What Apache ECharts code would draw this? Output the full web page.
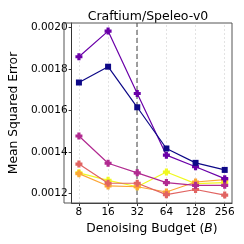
<!DOCTYPE html>
<html><head><meta charset="utf-8">
<script src="https://cdn.jsdelivr.net/npm/echarts@6/dist/echarts.min.js"></script>
<style>html,body{margin:0;padding:0;background:#fff}#c{width:244px;height:244px}</style>
</head><body><div id="c"></div>
<script>
const budgets = ['8','16','32','64','128','256'];
const yTicks = [0.0012, 0.0014, 0.0016, 0.0018, 0.0020];
const s1 = [0.001734, 0.001810, 0.001615, 0.001417, 0.001348, 0.001314];
const s2 = [0.001858, 0.001981, 0.001681, 0.001385, 0.001329, 0.001272];
const s3 = [0.001477, 0.001346, 0.001300, 0.001253, 0.001240, 0.001240];
const s4 = [0.001342, 0.001250, 0.001250, 0.001195, 0.001220, 0.001193];
const s5 = [0.001296, 0.001237, 0.001233, 0.001208, 0.001256, 0.001267];
const s6 = [0.001300, 0.001264, 0.001233, 0.001304, 0.001248, 0.001253];
const seriesVals = [s1, s2, s3, s4, s5, s6];
const colors = ['#0d0887', '#6a00a8', '#b12a90', '#e16462', '#fca636', '#f0f921'];
const plus = 'path://M1.1,0H2.9V1.1H4V2.9H2.9V4H1.1V2.9H0V1.1H1.1Z';
const symbols = ['rect', plus, plus, plus, plus, plus];
const ff = 'DejaVu Sans';
const xIdx = budgets.map((b, i) => i);

const gridLineStyle = {color: '#dcdcdc', type: [2, 2], width: 0.8};
const gridSeries = {
  type: 'line', data: [[0, yTicks[0]]], silent: true, z: 1,
  symbol: 'none', lineStyle: {width: 0, opacity: 0}, itemStyle: {opacity: 0},
  markLine: {
    silent: true, symbol: 'none', label: {show: false}, animation: false,
    lineStyle: gridLineStyle,
    data: xIdx.map(i => ({xAxis: i})).concat(yTicks.map(v => ({yAxis: v})))
  }
};

const series = [gridSeries].concat(seriesVals.map((vals, k) => ({
  type: 'line',
  data: vals.map((v, i) => [i, v]),
  symbol: symbols[k],
  symbolSize: k === 0 ? 6 : 7,
  itemStyle: {color: colors[k]},
  lineStyle: {color: colors[k], width: 1.2},
  z: 10 - k,
  markLine: k === 0 ? {
    silent: true, symbol: 'none', label: {show: false},
    lineStyle: {color: '#808080', type: [5, 3], width: 1.5},
    data: [{xAxis: 2}]
  } : undefined
})));

const chart = echarts.init(document.getElementById('c'), null, {renderer: 'canvas'});
chart.setOption({
  animation: false,
  backgroundColor: '#fff',
  title: {text: 'Craftium/Speleo-v0', left: 143, top: 5, textAlign: 'center',
    textStyle: {fontFamily: ff, fontSize: 12.5, fontWeight: 'normal', color: '#000'}},
  grid: {left: 64, right: 12, top: 23, bottom: 41},
  xAxis: {
    type: 'value', min: -0.25, max: 5.25,
    name: '{n|Denoising Budget (}{i|B}{n|)}', nameLocation: 'middle', nameGap: 19,
    nameTextStyle: {rich: {n: {fontFamily: ff, fontSize: 12.3, color: '#000'}, i: {fontFamily: ff, fontSize: 12.3, fontStyle: 'italic', color: '#000'}}},
    axisLine: {show: true, onZero: false, lineStyle: {color: '#333', width: 1}},
    axisTick: {show: true, length: 3, customValues: xIdx, lineStyle: {color: '#333'}},
    axisLabel: {customValues: xIdx, formatter: v => budgets[Math.round(v)], fontFamily: ff, fontSize: 10.5, color: '#000', margin: 4},
    splitLine: {show: false}
  },
  yAxis: {
    type: 'value', min: 0.001155, max: 0.00202,
    name: 'Mean Squared Error', nameLocation: 'middle', nameGap: 49,
    nameTextStyle: {fontFamily: ff, fontSize: 12.3, color: '#000'},
    axisLine: {show: true, onZero: false, lineStyle: {color: '#333', width: 1}},
    axisTick: {show: true, length: 3, customValues: yTicks, lineStyle: {color: '#333'}},
    axisLabel: {customValues: yTicks, formatter: v => v.toFixed(4), fontFamily: ff, fontSize: 10.5, color: '#000', margin: 4},
    splitLine: {show: false}
  },
  graphic: [{type: 'rect', shape: {x: 64, y: 23, width: 168, height: 180}, style: {fill: 'none', stroke: '#555', lineWidth: 1}, silent: true, z: 100}],
  series: series
});
</script></body></html>
